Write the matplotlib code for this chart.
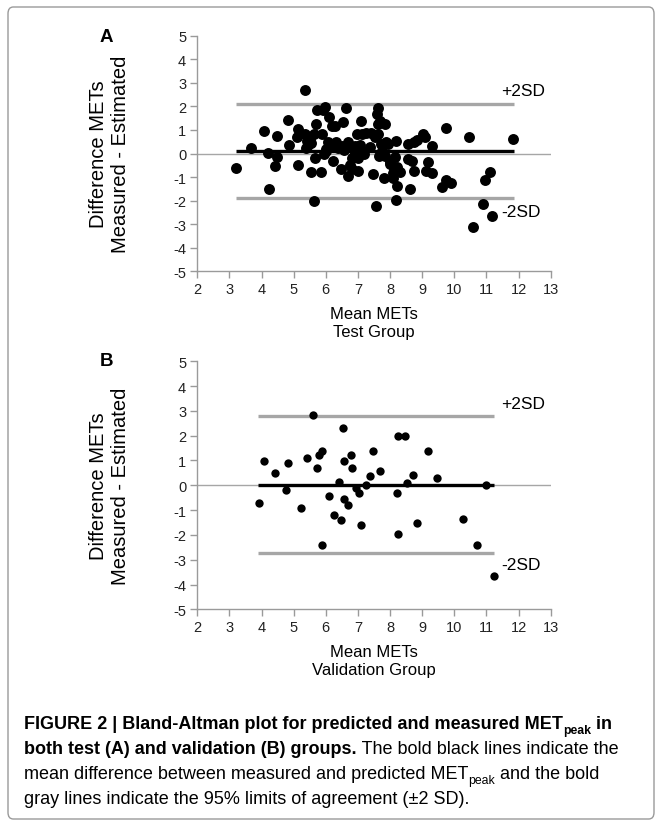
import matplotlib
matplotlib.use("Agg")
import matplotlib.pyplot as plt
from matplotlib import font_manager
from matplotlib.patches import FancyBboxPatch

# ---- data ----
# panel A: test group
mean_a = [3.21, 3.68, 4.09, 4.19, 4.24, 4.41, 4.47, 4.47, 4.83, 4.86,
          5.13, 5.14, 5.11, 5.35, 5.35, 5.40, 5.37, 5.50, 5.55, 5.54,
          5.64, 5.67, 5.63, 5.71, 5.74, 5.87, 5.84, 5.90, 5.97, 5.94,
          6.02, 6.08, 6.10, 6.12, 6.20, 6.29, 6.23, 6.33, 6.38, 6.46,
          6.54, 6.56, 6.64, 6.68, 6.69, 6.75, 6.80, 6.83, 6.80, 6.90,
          7.01, 7.01, 6.98, 7.09, 7.13, 7.13, 7.26, 7.39, 7.42, 7.47,
          7.52, 7.55, 7.58, 7.63, 7.63, 7.64, 7.66, 7.73, 7.80, 7.83,
          7.87, 7.83, 7.94, 7.99, 8.15, 8.18, 8.20, 8.23, 8.10, 8.10,
          8.23, 8.00, 8.31, 8.57, 8.69, 8.57, 8.73, 8.83, 8.76, 8.62,
          9.04, 9.09, 9.30, 9.17, 9.11, 9.32, 9.73, 9.73, 9.61, 9.91,
          10.47, 10.57, 10.88, 10.95, 11.12, 11.17, 11.84,
          6.00, 6.90, 7.20, 7.75, 5.45, 7.69, 8.13, 6.50, 7.05]
diff_a = [-0.61, 0.23, 0.96, 0.01, -1.51, -0.52, -0.14, 0.76, 1.43, 0.37,
          -0.48, 1.06, 0.71, 2.69, 0.82, 0.51, 0.23, 0.61, 0.45, -0.78,
          -2.01, -0.17, 0.82, 1.24, 1.84, 0.82, -0.78, 1.84, 1.99, -0.03,
          0.11, 0.47, 1.53, 0.28, 1.15, 1.15, -0.31, 0.50, 0.25, -0.64,
          1.34, 0.14, 1.92, 0.47, -0.95, -0.50, -0.17, 0.23, -0.66, 0.01,
          -0.76, -0.17, 0.82, 1.39, 0.82, 0.11, 0.85, 0.28, 0.89, -0.88,
          0.68, -2.22, 1.67, 1.92, 0.82, 1.24, -0.10, 0.40, -1.05, 1.24,
          0.47, -0.10, 0.40, -0.34, -0.14, -1.98, 0.54, -0.57, -0.81, -1.05,
          -1.37, -0.45, -0.78, -0.24, -0.31, 0.40, 0.47, 0.57, -0.74, -1.49,
          0.82, 0.68, 0.33, -0.38, -0.74, -0.81, 1.10, -1.12, -1.44, -1.27,
          0.68, -3.10, -2.15, -1.12, -0.78, -2.64, 0.62,
          0.20, 0.30, 0.00, 0.10, 0.35, 1.38, -0.60, 0.30, 0.35]
mean_line_a = 0.10
upper_a = 2.09
lower_a = -1.90
span_a = (3.19, 11.87)

# panel B: validation group
mean_b = [3.92, 4.07, 4.42, 4.77, 4.82, 5.22, 5.43, 5.59, 5.73, 5.78,
          5.89, 5.89, 6.10, 6.27, 6.42, 6.48, 6.52, 6.56, 6.56, 6.68,
          6.78, 6.82, 6.93, 7.04, 7.08, 7.26, 7.37, 7.47, 7.68, 8.25,
          8.23, 8.25, 8.47, 9.19, 8.70, 8.54, 9.45, 8.85, 10.26, 10.70,
          10.99, 11.22]
diff_b = [-0.73, 0.99, 0.50, -0.19, 0.90, -0.90, 1.10, 2.82, 0.70, 1.22,
          1.40, -2.42, -0.44, -1.20, 0.12, -1.40, 2.31, 0.99, -0.54, -0.81,
          1.21, 0.70, -0.11, -0.32, -1.60, 0.00, 0.39, 1.40, 0.59, 2.00,
          -0.32, -1.96, 2.00, 1.40, 0.40, 0.09, 0.30, -1.52, -1.34, -2.41,
          0.00, -3.64]
mean_line_b = 0.03
upper_b = 2.80
lower_b = -2.72
span_b = (3.90, 11.24)

x_ticks = list(range(2, 14))
y_ticks = list(range(-5, 6))

# ---- style ----
W, H = 662, 828
GRAY = "#a6a6a6"
AXIS_GRAY = "#9a9a9a"

plt.rcParams["font.family"] = ["Liberation Sans", "DejaVu Sans"]
plt.rcParams["axes.unicode_minus"] = False

try:
    font_manager.findfont("Liberation Sans Narrow", fallback_to_default=False)
    cap_font = "Liberation Sans Narrow"
    cap_size = 16
except ValueError:
    cap_font = "Liberation Sans"
    cap_size = 13


def box(l, t, r, b):
    # pixel box -> figure fraction rect
    return [l / W, 1 - b / H, (r - l) / W, (b - t) / H]


fig = plt.figure(figsize=(W / 100, H / 100), dpi=100)


def panel(rect, x, y, m, up, lo, span, dot, plus_y, minus_y):
    ax = fig.add_axes(rect)
    ax.axhline(0, color=GRAY, lw=1, zorder=1)
    ax.hlines([up, lo], span[0], span[1], color=GRAY, lw=2.4, zorder=2)
    ax.hlines(m, span[0], span[1], color="black", lw=2.4, zorder=2)
    ax.scatter(x, y, s=dot, color="black", linewidths=0, zorder=3)
    ax.text(11.45, plus_y, "+2SD", fontsize=12.5, va="center", ha="left")
    ax.text(11.45, minus_y, "-2SD", fontsize=12.5, va="center", ha="left")
    ax.set_xlim(2, 13)
    ax.set_ylim(-5, 5)
    ax.set_xticks(x_ticks)
    ax.set_yticks(y_ticks)
    ax.set_xticklabels([str(t) for t in x_ticks])
    ax.set_yticklabels([str(t) for t in y_ticks])
    for s in ["top", "right"]:
        ax.spines[s].set_visible(False)
    for s in ["left", "bottom"]:
        ax.spines[s].set_color(AXIS_GRAY)
        ax.spines[s].set_linewidth(1)
    ax.tick_params(direction="out", length=5, width=1, color=AXIS_GRAY,
                   labelsize=10.5, labelcolor="#222222", pad=3)
    ax.patch.set_visible(False)
    return ax


ax_a = panel(box(197.3, 36.7, 550.7, 272.3), mean_a, diff_a, mean_line_a,
             upper_a, lower_a, span_a, 62, 2.66, -2.46)
ax_b = panel(box(197.3, 362.3, 550.7, 610.3), mean_b, diff_b, mean_line_b,
             upper_b, lower_b, span_b, 36, 3.28, -3.20)

# panel letters and axis titles
for letter, top in [("A", 38), ("B", 362)]:
    fig.text(100 / W, 1 - top / H, letter, fontsize=13.5, fontweight="bold",
             ha="left", va="center")
for ax, group, xlab_y in [(ax_a, "Test Group", 324), (ax_b, "Validation Group", 662)]:
    bb = ax.get_position()
    fig.text(110 / W, bb.y0 + bb.height / 2, "Difference METs\nMeasured - Estimated",
             rotation=90, fontsize=14.5, ha="center", va="center", linespacing=1.2)
    fig.text(bb.x0 + bb.width / 2, 1 - xlab_y / H, "Mean METs\n" + group,
             fontsize=12, ha="center", va="center", linespacing=1.25)

# frame around the figure
fig.add_artist(FancyBboxPatch((8 / W, 1 - 820 / H), 646 / W, 812 / H,
                              boxstyle="round,pad=0,rounding_size=0.008",
                              transform=fig.transFigure, fill=False,
                              ec="#9a9a9a", lw=1))

# caption, written piece by piece so the subscripts sit right
cap = fig.add_axes([0, 0, 1, 1])
cap.axis("off")
cap.set_xlim(0, W)
cap.set_ylim(H, 0)
cx = 24


def caption_line(y, pieces):
    # pieces: (text, weight, is_subscript)
    main = None
    prev = None
    for txt, weight, sub in pieces:
        kw = dict(family=[cap_font, "DejaVu Sans"], fontweight=weight,
                  fontsize=cap_size * (0.68 if sub else 1.0))
        if prev is None:
            prev = cap.text(cx, y, txt, va="center", ha="left", **kw)
            main = prev
        elif sub:
            prev = cap.annotate(txt, xy=(1, 0), xycoords=prev, xytext=(0, -2.3),
                                textcoords="offset points", va="bottom", ha="left", **kw)
        else:
            prev = cap.annotate(txt, xy=(1, 0), xycoords=(prev, main),
                                va="bottom", ha="left", **kw)
            main = prev


caption_line(725, [("FIGURE 2 | Bland-Altman plot for predicted and measured MET", "bold", False),
                   ("peak", "bold", True),
                   (" in", "bold", False)])
caption_line(750, [("both test (A) and validation (B) groups.", "bold", False),
                   (" The bold black lines indicate the", "normal", False)])
caption_line(775, [("mean difference between measured and predicted MET", "normal", False),
                   ("peak", "normal", True),
                   (" and the bold", "normal", False)])
caption_line(800, [("gray lines indicate the 95% limits of agreement (\u00b12 SD).", "normal", False)])

fig.savefig("out.png", dpi=100)
